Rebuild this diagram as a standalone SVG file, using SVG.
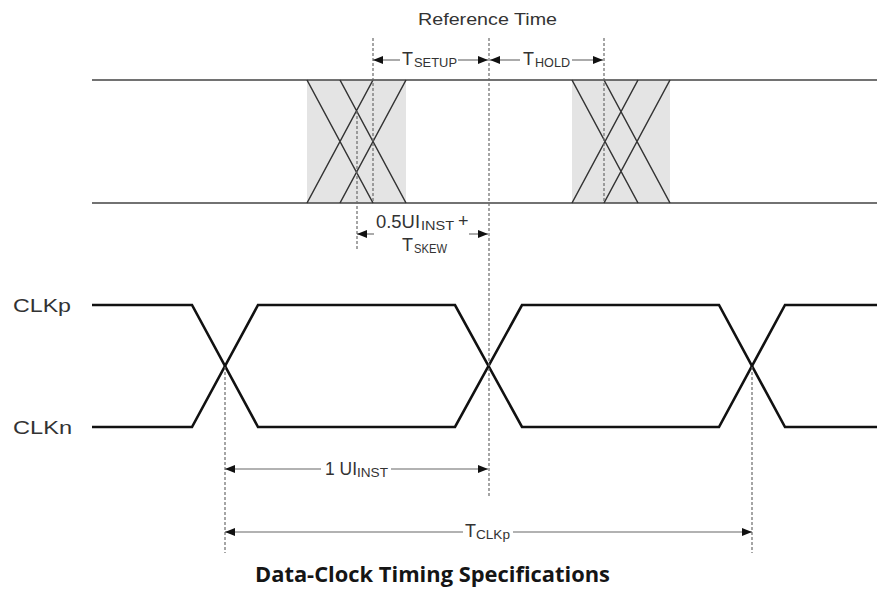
<svg xmlns="http://www.w3.org/2000/svg" width="877" height="589" viewBox="0 0 877 589">
  <defs>
    <marker id="tip" viewBox="0 0 10 8" refX="10" refY="4" markerWidth="10" markerHeight="8" markerUnits="userSpaceOnUse" orient="auto-start-reverse">
      <path d="M0,0 L10,4 L0,8 Z" fill="#111"/>
    </marker>
    <style>
      .lbl { font-family: "Liberation Sans", Arial, sans-serif; fill: #333; }
      .main { font-size: 18px; }
      .sub { font-size: 13px; }
      .sig { fill: none; stroke: #111; stroke-width: 2.6; stroke-linejoin: miter; }
      .data { fill: none; stroke: #444; stroke-width: 1.6; }
      .edge { fill: none; stroke: #333; stroke-width: 1.5; }
      .win { fill: #e4e4e4; stroke: none; }
      .guide { fill: none; stroke: #6a6a6a; stroke-width: 1.2; stroke-dasharray: 3 2; }
      .dim { fill: none; stroke: #666; stroke-width: 1.1; }
      .title { font-family: "Open Sans", "Noto Sans", sans-serif; font-weight: 700; font-size: 22px; fill: #151515; }
    </style>
  </defs>
  <rect width="877" height="589" fill="#fff"/>

  <!-- data signal eye with transition windows -->
  <g id="data">
    <rect class="win" x="307" y="80" width="99" height="123"/>
    <rect class="win" x="572" y="80" width="98" height="123"/>
    <path class="data" d="M92,80 H877 M92,203 H877"/>
    <path class="edge" d="M307,80 L373,203 M307,203 L373,80 M340,80 L406,203 M340,203 L406,80"/>
    <path class="edge" d="M572,80 L638,203 M572,203 L638,80 M604,80 L670,203 M604,203 L670,80"/>
  </g>

  <!-- differential clock -->
  <g id="clkp">
    <path class="sig" d="M92,305 H192 L258,427 H455 L522,305 H719 L785,427 H877"/>
    <text class="lbl" x="13" y="312" font-size="18.5" textLength="58" lengthAdjust="spacingAndGlyphs">CLKp</text>
  </g>
  <g id="clkn">
    <path class="sig" d="M92,427 H192 L258,305 H455 L522,427 H719 L785,305 H877"/>
    <text class="lbl" x="13" y="434" font-size="18.5" textLength="59" lengthAdjust="spacingAndGlyphs">CLKn</text>
  </g>

  <!-- reference guides and dimension arrows -->
  <g id="connectors">
    <path class="guide" d="M373,38 V203 M489,38 V496 M604,38 V203 M357,111 V250 M225,367 V553 M752,367 V553"/>

    <line class="dim" x1="373" y1="60" x2="400" y2="60" marker-start="url(#tip)"/>
    <line class="dim" x1="458" y1="60" x2="488" y2="60" marker-end="url(#tip)"/>
    <line class="dim" x1="490" y1="60" x2="520" y2="60" marker-start="url(#tip)"/>
    <line class="dim" x1="572" y1="60" x2="603" y2="60" marker-end="url(#tip)"/>

    <line class="dim" x1="357" y1="234" x2="374" y2="234" marker-start="url(#tip)"/>
    <line class="dim" x1="469" y1="234" x2="488" y2="234" marker-end="url(#tip)"/>

    <line class="dim" x1="225" y1="469" x2="321" y2="469" marker-start="url(#tip)"/>
    <line class="dim" x1="391" y1="469" x2="488" y2="469" marker-end="url(#tip)"/>

    <line class="dim" x1="225" y1="532" x2="463" y2="532" marker-start="url(#tip)"/>
    <line class="dim" x1="513" y1="532" x2="752" y2="532" marker-end="url(#tip)"/>
  </g>

  <!-- labels -->
  <g id="ref-time">
    <text class="lbl" x="418" y="25" font-size="17" textLength="139" lengthAdjust="spacingAndGlyphs">Reference Time</text>
  </g>
  <g id="t-setup">
    <text class="lbl main" x="402" y="65">T</text>
    <text class="lbl sub" x="414" y="67" textLength="43" lengthAdjust="spacingAndGlyphs">SETUP</text>
  </g>
  <g id="t-hold">
    <text class="lbl main" x="523" y="65">T</text>
    <text class="lbl sub" x="535" y="67" textLength="35" lengthAdjust="spacingAndGlyphs">HOLD</text>
  </g>
  <g id="skew">
    <text class="lbl main" x="376" y="228" textLength="44" lengthAdjust="spacingAndGlyphs">0.5UI</text>
    <text class="lbl sub" x="421" y="230" textLength="33" lengthAdjust="spacingAndGlyphs">INST</text>
    <text class="lbl main" x="458" y="227">+</text>
    <text class="lbl main" x="402" y="251">T</text>
    <text class="lbl sub" x="414" y="253" textLength="33" lengthAdjust="spacingAndGlyphs">SKEW</text>
  </g>
  <g id="ui-inst">
    <text class="lbl main" x="325" y="475" textLength="32" lengthAdjust="spacingAndGlyphs">1 UI</text>
    <text class="lbl sub" x="357" y="477" textLength="31" lengthAdjust="spacingAndGlyphs">INST</text>
  </g>
  <g id="t-clkp">
    <text class="lbl main" x="465" y="537">T</text>
    <text class="lbl sub" x="476" y="539" textLength="34" lengthAdjust="spacingAndGlyphs">CLKp</text>
  </g>

  <text class="title" x="255" y="582" textLength="355" lengthAdjust="spacingAndGlyphs">Data-Clock Timing Specifications</text>
</svg>
